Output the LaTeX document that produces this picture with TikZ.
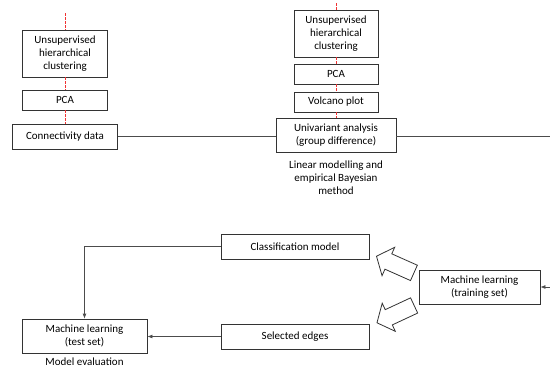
\documentclass[tikz,border=0pt]{standalone}
\usepackage{fontspec}
\setmainfont{Carlito}
\usepackage{tikz}
\usetikzlibrary{arrows.meta}
\usetikzlibrary{calc,positioning}
\usetikzlibrary{shapes,shapes.arrows}
\definecolor{dashred}{RGB}{240,50,50}

\begin{document}
\begin{tikzpicture}[x=1pt,y=-1pt,
		font=\fontsize{11}{13}\selectfont,
		box/.style={draw=black!80,line width=0.8pt,align=center,inner sep=1pt},
		reddash/.style={dashred,dash pattern=on 2.5pt off 1.5pt,line width=1pt},
		link/.style={black!70,line width=0.8pt},
		arr/.style={link,-{Latex[length=5pt,width=4pt]}},
		bigarrow/.style={draw=black!80,line width=0.8pt,fill=white,single arrow,anchor=tip,
			minimum height=41pt,minimum width=31pt,inner sep=8pt,single arrow tip angle=100}]
			\useasboundingbox (0,0) rectangle (550,370);
			\begin{scope}
				% left column
				\draw (65,53.5) node[box,minimum width=85pt,minimum height=47pt](clust1) {Unsupervised\\hierarchical\\clustering};
				\draw (65,100) node[box,minimum width=85pt,minimum height=20pt](pca1) {PCA};
				\draw (65,136.5) node[box,minimum width=105pt,minimum height=25pt](conn) {Connectivity data};
				\coordinate (top1) at (65,13);
				\draw[reddash] (top1) -- (clust1.north);
				\draw[reddash] (clust1.south) -- (pca1.north);
				\draw[reddash] (pca1.south) -- (conn.north);
			\end{scope}
			\begin{scope}
				% middle column
				\draw (336,33.5) node[box,minimum width=84pt,minimum height=47pt](clust2) {Unsupervised\\hierarchical\\clustering};
				\draw (336,74) node[box,minimum width=84pt,minimum height=20pt](pca2) {PCA};
				\draw (336,102) node[box,minimum width=84pt,minimum height=20pt](volc) {Volcano plot};
				\draw (336,135.5) node[box,minimum width=120pt,minimum height=34pt](univ) {Univariant analysis\\(group difference)};
				\draw (univ.south) node[below=4pt,align=center](lmeb) {Linear modelling and\\empirical Bayesian\\method};
				\coordinate (top2) at (336,3);
				\draw[reddash] (top2) -- (clust2.north);
				\draw[reddash] (clust2.south) -- (pca2.north);
				\draw[reddash] (pca2.south) -- (volc.north);
				\draw[reddash] (volc.south) -- (univ.north);
				\coordinate (redge) at (550,136.5);
				\draw[link] (conn.east) -- (conn.east -| univ.west);
				\draw[link] (univ.east |- conn.east) -- (redge);
			\end{scope}
			\begin{scope}
				% machine learning part
				\draw (84.5,336) node[box,minimum width=125pt,minimum height=34pt](test) {Machine learning\\(test set)};
				\draw (test.south) node[below=1pt](evalu) {Model evaluation};
				\draw (295,246.5) node[box,minimum width=148pt,minimum height=25pt](classm) {Classification model};
				\draw (295,336.5) node[box,minimum width=148pt,minimum height=25pt](seledg) {Selected edges};
				\draw (479.5,287) node[box,minimum width=121pt,minimum height=34pt](train) {Machine learning\\(training set)};
				\coordinate (redge2) at (550,287);
				\draw[arr] (redge2) -- (train.east);
				\draw[arr] (classm.west) -| (test.north);
				\draw[arr] (seledg.west) -- (test.east |- seledg.west);
				\node[bigarrow,rotate=156] (up) at (376,256) {};
				\node[bigarrow,rotate=205] (down) at (376.5,323) {};
			\end{scope}
		\end{tikzpicture}
\end{document}
